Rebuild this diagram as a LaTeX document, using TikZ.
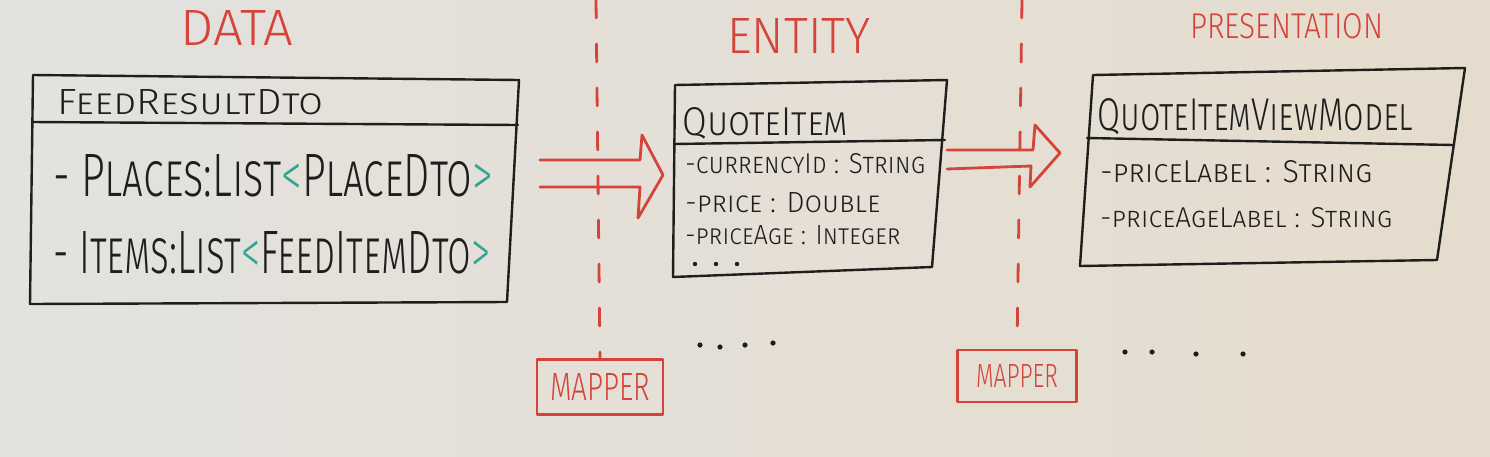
\documentclass[tikz,border=0pt]{standalone}
\usepackage{fontspec}
\setmainfont{Fira Sans}[UprightFont=* Light]
\usepackage{graphicx}
\newlength\pxu
\setlength\pxu{0.5pt}
\newcommand\handfit[3]{\resizebox{#1\pxu}{#2\pxu}{#3}}

\begin{document}
\begin{tikzpicture}[x=0.5pt,y=-0.5pt,font=\scshape,
  pen/.style={ink,line width=1.2pt,line cap=round,line join=round},
  redpen/.style={marker,line width=1.4pt,line cap=round,line join=round},
  tag/.style={inner sep=0pt,anchor=base west,text=ink},
  mapperbox/.style={redpen,draw,inner sep=0pt}]
\definecolor{ink}{HTML}{1E1E1C}\definecolor{marker}{HTML}{D5443A}
\definecolor{brak}{HTML}{2FA596}
\definecolor{boardl}{HTML}{E3E2DF}\definecolor{boardr}{HTML}{E6DCCD}
\shade[left color=boardl,right color=boardr] (0,0) rectangle (1490,456);
\useasboundingbox (0,0) rectangle (1490,456);
\node[tag,text=marker] (data) at (180,45) {\handfit{113}{35}{DATA}};
\node[tag,text=marker] (entity) at (727,53) {\handfit{143}{35}{ENTITY}};
\node[tag,text=marker] (presentation) at (1190,38) {\handfit{193}{25}{PRESENTATION}};
\coordinate (d-nw) at (33,75);\coordinate (d-ne) at (519,80);
\coordinate (d-se) at (507,302);\coordinate (d-sw) at (30,304);
\draw[pen] (d-nw) -- (d-ne) -- (d-se) -- (d-sw) -- cycle;
\draw[pen] (32,122) -- (518,125);
\node[tag] (dto) at (57,114) {\handfit{266}{25}{FeedResultDto}};
\node[tag] (places) at (53,196) {\handfit{440}{42}{- Places:List\textcolor{brak}{<}PlaceDto\textcolor{brak}{>}}};
\node[tag] (items) at (53,273) {\handfit{437}{42}{- Items:List\textcolor{brak}{<}FeedItemDto\textcolor{brak}{>}}};
\coordinate (e-nw) at (675,85);\coordinate (e-ne) at (947,80);
\coordinate (e-se) at (932,267);\coordinate (e-sw) at (673,277);
\draw[pen] (e-nw) -- (e-ne) -- (e-se) -- (e-sw) -- cycle;
\draw[pen] (674,144) -- (945,140);
\node[tag] (quote) at (682,135) {\handfit{166}{28}{QuoteItem}};
\node[tag] (currency) at (685,173) {\handfit{240}{20}{-currencyId : String}};
\node[tag] (price) at (685,212) {\handfit{195}{20}{-price : Double}};
\node[tag] (age) at (685,244) {\handfit{215}{19}{-priceAge : Integer}};
\foreach \x in {695,716,737}
  \fill[ink] (\x,264) circle (1.1pt);
\coordinate (p-nw) at (1093,75);\coordinate (p-ne) at (1465,68);
\coordinate (p-se) at (1437,260);\coordinate (p-sw) at (1080,266);
\draw[pen] (p-nw) -- (p-ne) -- (p-se) -- (p-sw) -- cycle;
\draw[pen] (1087,138) -- (1453,145);
\node[tag] (viewmodel) at (1097,130) {\handfit{316}{32}{QuoteItemViewModel}};
\node[tag] (label) at (1100,182) {\handfit{272}{22}{-priceLabel : String}};
\node[tag] (agelabel) at (1100,227) {\handfit{292}{20}{-priceAgeLabel : String}};
\draw[redpen] (540,160) -- (640,160) -- (642,135) -- (663,175) -- (638,218) -- (640,187) -- (540,187);
\draw[redpen] (947,150) -- (1033,150) -- (1035,125) -- (1060,153) -- (1030,187) -- (1031,166) -- (947,169);
\node[mapperbox,minimum width=63pt,minimum height=27.5pt] (mapperi) at (600,387) {\handfit{100}{27}{MAPPER}};
\node[mapperbox,minimum width=59.5pt,minimum height=26pt] (mapperii) at (1017,376) {\handfit{82}{23}{MAPPER}};
\coordinate (cuti) at (596,0);\coordinate (cutii) at (1022,0);
\draw[redpen,dash pattern=on 9pt off 13pt] (cuti) -- (mapperi.north);
\draw[redpen,dash pattern=on 9pt off 13pt] (cutii) -- (mapperii.north);
\foreach \x/\y in {700/345,720/347,745/345,773/343,1125/352,1152/352,1196/354,1243/354}
  \fill[ink] (\x,\y) circle (1.3pt);
\end{tikzpicture}
\end{document}
